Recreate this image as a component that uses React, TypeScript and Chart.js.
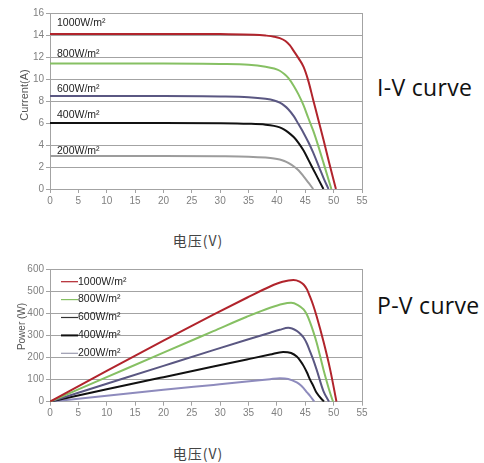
import React, { useEffect, useRef } from "react";
import { Chart, registerables } from "chart.js";

Chart.register(...registerables);

// ---------- data ----------
const seriesLabels = ["1000W/m²", "800W/m²", "600W/m²", "400W/m²", "200W/m²"];
const xTickMax = 55;
const xTickStep = 5;
const ivYMax = 16;
const ivYStep = 2;
const pvYMax = 600;
const pvYStep = 100;

// I-V curves: [voltage, current]
const iv1000: [number, number][] = [[0, 14.1], [10, 14.1], [20, 14.1], [30, 14.08], [36, 14.03], [38, 13.95], [39.5, 13.85], [40.5, 13.72], [41.5, 13.45], [42.3, 13.05], [42.9, 12.6], [43.8, 11.9], [44.7, 11.1], [45.5, 9.9], [46.4, 8.1], [47.3, 6.3], [48.2, 4.5], [49.2, 2.4], [50.4, 0]];
const iv800: [number, number][] = [[0, 11.4], [10, 11.4], [20, 11.4], [30, 11.37], [35, 11.3], [38, 11.12], [39.5, 10.95], [40.5, 10.75], [41.3, 10.45], [42, 10.1], [43, 9.35], [43.8, 8.6], [44.7, 7.6], [45.5, 6.5], [46.4, 5.3], [47.3, 3.9], [48.2, 2.4], [49.6, 0]];
const iv600: [number, number][] = [[0, 8.45], [10, 8.45], [20, 8.45], [30, 8.42], [35, 8.35], [38, 8.2], [39.5, 8.05], [40.5, 7.85], [41.3, 7.58], [42, 7.25], [43, 6.6], [43.8, 5.9], [44.7, 5.1], [45.6, 4.2], [46.4, 3.3], [47.5, 1.9], [48.3, 0.9], [49.1, 0]];
const iv400: [number, number][] = [[0, 6.0], [10, 6.0], [20, 6.0], [30, 5.98], [35, 5.93], [38, 5.85], [39.5, 5.74], [40.5, 5.6], [41.3, 5.4], [42, 5.15], [43, 4.7], [43.8, 4.2], [44.7, 3.5], [45.6, 2.6], [46.4, 1.8], [47.3, 0.9], [48.2, 0]];
const iv200: [number, number][] = [[0, 3.0], [10, 3.0], [20, 3.0], [30, 2.98], [35, 2.94], [38, 2.86], [39.5, 2.78], [40.5, 2.68], [41.3, 2.55], [42, 2.38], [43, 2.05], [43.8, 1.7], [44.7, 1.15], [45.6, 0.55], [46.4, 0]];

// P-V curves: [voltage, power]
const pv1000: [number, number][] = [[0, 0], [10, 139], [20, 276], [28.8, 394], [34.7, 470], [38.8, 521], [41, 542], [42.9, 550], [44, 543], [44.7, 530], [45.3, 508], [45.8, 477], [46.4, 436], [47, 386], [48.2, 273], [49.4, 144], [50.5, 0]];
const pv800: [number, number][] = [[0, 0], [10, 111], [20, 222], [28.8, 319], [34.7, 384], [38.8, 425], [41, 442], [42.5, 447], [43.7, 437], [44.7, 417], [45.3, 393], [45.8, 362], [46.4, 318], [47, 268], [48.2, 146], [49.4, 38], [49.9, 0]];
const pv600: [number, number][] = [[0, 0], [10, 81], [20, 162], [28.8, 233], [34.7, 280], [38.8, 312], [40.5, 325], [42, 334], [43.5, 320], [44.2, 305], [44.7, 290], [45.3, 262], [45.8, 230], [46.4, 190], [47, 145], [48.2, 48], [49.2, 0]];
const pv400: [number, number][] = [[0, 0], [10, 56], [20, 111], [28.8, 159], [34.7, 191], [38.8, 213], [41.1, 225], [42.5, 220], [43.5, 204], [44.1, 186], [44.7, 162], [45.3, 132], [45.8, 102], [46.4, 72], [47, 40], [48.3, 0]];
const pv200: [number, number][] = [[0, 0], [10, 27], [20, 54], [28.8, 76], [34.7, 91], [38.8, 102], [40.5, 106], [42, 103], [43.5, 87], [44.2, 74], [44.7, 61], [45.3, 42], [45.8, 28], [46.6, 0]];

// label anchors (current values) for the I-V annotations
const ivLabelValues = [15.1, 12.3, 9.1, 6.7, 3.45];

const ivColors = ["#b1242c", "#86c063", "#5a5782", "#111111", "#9c9c9c"];
const pvColors = ["#b1242c", "#86c063", "#5a5782", "#111111", "#8e8bbd"];
const pvLegendColors = ["#b1242c", "#86c063", "#333333", "#111111", "#9a9aae"];
const pvLegendWidths = [1.2, 1.2, 1.2, 2, 1.2];

const FONT = "'Liberation Sans', Arial, sans-serif";
const GRID = "#a3a3a3";
const TICK = "#808080";

function toPts(arr: [number, number][]) {
  return arr.map(([x, y]) => ({ x, y }));
}

function makeDatasets(series: [number, number][][], colors: string[]) {
  return series.map((s, i) => ({
    label: seriesLabels[i],
    data: toPts(s),
    borderColor: colors[i],
    backgroundColor: colors[i],
    borderWidth: 2,
    pointRadius: 0,
    fill: false,
    cubicInterpolationMode: "monotone" as const,
  }));
}

const frameAndTitles = {
  id: "frameAndTitles",
  afterDraw(chart: any, _args: any, opts: any) {
    const { ctx, chartArea } = chart;
    ctx.save();
    ctx.strokeStyle = GRID;
    ctx.lineWidth = 1;
    ctx.beginPath();
    const rx = Math.round(chartArea.right) + 0.5;
    ctx.moveTo(rx, chartArea.top);
    ctx.lineTo(rx, chartArea.bottom);
    ctx.stroke();
    if (opts && opts.yTitle) {
      ctx.fillStyle = opts.yTitleColor || "#555";
      ctx.font = `${opts.yTitleSize || 10}px ${FONT}`;
      ctx.textAlign = "center";
      ctx.textBaseline = "middle";
      ctx.translate(opts.yTitleX, opts.yTitleY);
      ctx.rotate(-Math.PI / 2);
      ctx.fillText(opts.yTitle, 0, 0);
    }
    ctx.restore();
  },
};

const ivLabels = {
  id: "ivLabels",
  afterDatasetsDraw(chart: any, _args: any, opts: any) {
    if (!opts || !opts.enabled) return;
    const { ctx, chartArea, scales } = chart;
    ctx.save();
    ctx.fillStyle = "#222";
    ctx.font = `10.5px ${FONT}`;
    ctx.textAlign = "left";
    ctx.textBaseline = "middle";
    seriesLabels.forEach((lab, i) => {
      const y = scales.y.getPixelForValue(ivLabelValues[i]);
      ctx.fillText(lab, chartArea.left + 7, y);
    });
    ctx.restore();
  },
};

const pvLegend = {
  id: "pvLegend",
  afterDatasetsDraw(chart: any, _args: any, opts: any) {
    if (!opts || !opts.enabled) return;
    const { ctx, chartArea } = chart;
    ctx.save();
    ctx.font = `10.5px ${FONT}`;
    ctx.textAlign = "left";
    ctx.textBaseline = "middle";
    seriesLabels.forEach((lab, i) => {
      const y = chartArea.top + 12.7 + i * 17.9;
      ctx.strokeStyle = pvLegendColors[i];
      ctx.lineWidth = pvLegendWidths[i];
      ctx.beginPath();
      ctx.moveTo(chartArea.left + 11, y);
      ctx.lineTo(chartArea.left + 28, y);
      ctx.stroke();
      ctx.fillStyle = "#222";
      ctx.fillText(lab, chartArea.left + 28, y);
    });
    ctx.restore();
  },
};

function makeConfig(datasets: any[], yMax: number, yStep: number, padTop: number, xAxisH: number, plugins: any) {
  return {
    type: "line" as const,
    data: { datasets },
    plugins: [frameAndTitles, ivLabels, pvLegend],
    options: {
      animation: false as const,
      responsive: false,
      devicePixelRatio: 1,
      layout: { padding: { left: 0, right: 8, top: padTop, bottom: 0 } },
      plugins: {
        legend: { display: false },
        tooltip: { enabled: false },
        ...plugins,
      },
      scales: {
        x: {
          type: "linear" as const,
          min: 0,
          max: xTickMax,
          ticks: { stepSize: xTickStep, color: TICK, font: { family: FONT, size: 10 }, padding: 2, maxRotation: 0 },
          grid: { drawOnChartArea: false, drawTicks: true, tickLength: 4, color: GRID },
          border: { color: GRID },
          afterFit(scale: any) {
            scale.height = xAxisH;
          },
        },
        y: {
          min: 0,
          max: yMax,
          ticks: { stepSize: yStep, color: TICK, font: { family: FONT, size: 10 }, padding: 2 },
          grid: { color: GRID, tickLength: 4, drawTicks: true },
          border: { color: GRID },
          afterFit(scale: any) {
            scale.width = 50;
          },
        },
      },
    },
  };
}

export default function App() {
  const ivRef = useRef<HTMLCanvasElement>(null);
  const pvRef = useRef<HTMLCanvasElement>(null);

  useEffect(() => {
    const ivChart = new Chart(
      ivRef.current!,
      makeConfig(makeDatasets([iv1000, iv800, iv600, iv400, iv200], ivColors), ivYMax, ivYStep, 13, 23, {
        frameAndTitles: { yTitle: "Current(A)", yTitleX: 25, yTitleY: 95, yTitleSize: 11, yTitleColor: "#555" },
        ivLabels: { enabled: true },
        pvLegend: { enabled: false },
      }) as any
    );
    const pvChart = new Chart(
      pvRef.current!,
      makeConfig(makeDatasets([pv1000, pv800, pv600, pv400, pv200], pvColors), pvYMax, pvYStep, 14, 23.3, {
        frameAndTitles: { yTitle: "Power (W)", yTitleX: 22, yTitleY: 71.5, yTitleSize: 10, yTitleColor: "#555" },
        ivLabels: { enabled: false },
        pvLegend: { enabled: true },
      }) as any
    );
    return () => {
      ivChart.destroy();
      pvChart.destroy();
    };
  }, []);

  const axisTitle: React.CSSProperties = {
    position: "absolute",
    width: 120,
    textAlign: "center",
    fontFamily: "'Noto Sans CJK SC', sans-serif",
    fontSize: 14,
    letterSpacing: 1,
    color: "#444",
    lineHeight: "16px",
  };
  const sideTitle: React.CSSProperties = {
    position: "absolute",
    left: 377,
    fontFamily: "'Open Sans', sans-serif",
    fontSize: 23,
    color: "#111",
    lineHeight: "30px",
    letterSpacing: 0.3,
    whiteSpace: "nowrap",
  };

  return (
    <div style={{ position: "absolute", left: 0, top: 0, width: 484, height: 463, background: "#fff", overflow: "hidden" }}>
      <canvas ref={ivRef} width={370} height={212} style={{ position: "absolute", left: 0, top: 0 }} />
      <canvas ref={pvRef} width={370} height={170} style={{ position: "absolute", left: 0, top: 255 }} />
      <div style={{ ...axisTitle, left: 138, top: 232 }}>电压(V)</div>
      <div style={{ ...axisTitle, left: 138, top: 445 }}>电压(V)</div>
      <div style={{ ...sideTitle, top: 72 }}>I-V curve</div>
      <div style={{ ...sideTitle, top: 290 }}>P-V curve</div>
    </div>
  );
}
